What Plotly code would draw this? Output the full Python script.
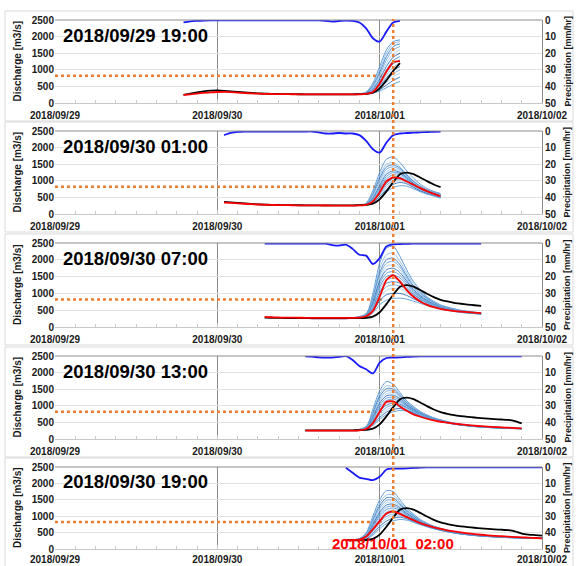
import plotly.graph_objects as go
from datetime import datetime, timedelta

# ---------------- data ----------------
BASE_TIME = datetime(2018, 9, 29, 0, 0)          # hour 0 of the time axis
AXIS_START = "2018-09-29 00:00"
AXIS_END = "2018-10-02 00:00"
DATE_TICKS = ["2018-09-29", "2018-09-30", "2018-10-01", "2018-10-02"]
DATE_TICK_LABELS = ["2018/09/29", "2018/09/30", "2018/10/01", "2018/10/02"]

PANEL_TITLES = ["2018/09/29 19:00", "2018/09/30 01:00", "2018/09/30 07:00",
                "2018/09/30 13:00", "2018/09/30 19:00"]
PANEL_START_HOUR = [19, 25, 31, 37, 43]          # hours since 2018/09/29 00:00

WARNING_LEVEL = 820                              # m3/s
WARNING_LINE_END = "2018-10-01 00:20"
PEAK_TIME = "2018-10-01 02:00"
PEAK_LABEL = "2018/10/01  02:00"

# observed discharge, hourly from hour 19 to hour 72
OBS_START_HOUR = 19
OBSERVED = [245, 280, 320, 350, 370, 378, 368, 352, 335, 318,
            302, 290, 282, 276, 272, 268, 266, 264, 262, 261,
            260, 260, 260, 260, 261, 262, 266, 275, 310, 440,
            680, 960, 1200, 1245, 1200, 1100, 990, 890, 810, 760,
            720, 692, 668, 648, 628, 612, 598, 588, 575, 540,
            470, 440, 425, 410]

# ensemble-mean discharge per panel, hourly from panel start hour
RED_P1 = [245, 262, 285, 305, 322, 332, 335, 328, 315, 300, 288, 280, 275, 271, 268, 266, 264,
          262, 261, 260, 259, 258, 258, 258, 258, 258, 262, 275, 330, 580, 950, 1230, 1260]
RED_P2 = [345, 335, 322, 308, 296, 286, 279, 273, 269, 266, 263, 261, 259, 258, 257, 256, 255,
          255, 255, 255, 258, 275, 380, 650, 980, 1100, 1070, 980, 880, 780, 690, 605, 535]
RED_P3 = [300, 290, 284, 280, 278, 276, 274, 273, 272, 271, 270, 270, 270, 270, 276, 320, 480,
          900, 1400, 1540, 1350, 1100, 900, 760, 660, 590, 540, 500, 475, 455, 440, 425, 410]
RED_P4 = [255, 255, 255, 255, 255, 255, 255, 255, 262, 300, 480, 820, 1120, 1130, 980, 850, 740,
          670, 610, 560, 520, 490, 460, 440, 420, 400, 385, 372, 360, 350, 340, 330, 322]
RED_P5 = [270, 272, 285, 380, 600, 850, 1080, 1150, 1070, 970, 880, 790, 720, 660, 610, 570,
          535, 505, 478, 455, 435, 418, 400, 388, 376, 365, 355, 345, 335, 325]

# precipitation per panel (mm/hr), hourly from panel start hour
PRECIP_P1 = [1.5, 0.8, 0.5, 0.3, 0.2, 0.2, 0.2, 0.2, 0.2, 0.2, 0.2, 0.2, 0.2, 0.2, 0.2,
             0.2, 0.2, 0.2, 0.2, 0.2, 0.2, 0.5, 1.0, 0.6, 0.3, 0.5, 1.5, 5.0, 11.0, 13.0,
             7.0, 1.5, 0.5]
PRECIP_P2 = [2.5, 1.2, 0.5, 0.3, 0.3, 0.3, 0.3, 0.3, 0.3, 0.3, 0.3, 0.3, 0.3, 0.3, 0.8,
             1.5, 1.5, 1.2, 1.5, 1.5, 2.5, 6.0, 11.0, 13.0, 7.0, 2.5, 1.5, 1.2, 1.0, 0.8,
             0.6, 0.5, 0.4]
PRECIP_P3 = [0.4, 0.4, 0.4, 0.4, 0.4, 0.4, 0.4, 0.4, 0.4, 0.4, 1.2, 1.5, 1.0, 3.5, 7.0,
             7.5, 12.5, 9.0, 2.0, 0.8, 0.6, 0.5, 0.4, 0.4, 0.4, 0.4, 0.4, 0.4, 0.4, 0.4,
             0.4, 0.4, 0.4]
PRECIP_P4 = [0.2, 0.4, 0.8, 1.0, 1.0, 0.5, 0.1, 2.4, 6.0, 8.0, 10.5, 4.0, 1.2, 1.0, 0.8,
             0.5, 0.3, 0.2, 0.2, 0.2, 0.2, 0.2, 0.2, 0.2, 0.2, 0.2, 0.2, 0.2, 0.2, 0.2,
             0.2, 0.2, 0.2]
PRECIP_P5 = [0.5, 3.5, 6.5, 7.2, 8.0, 6.0, 1.5, 1.0, 1.0, 0.8, 0.5, 0.3, 0.2, 0.2, 0.2,
             0.2, 0.2, 0.2, 0.2, 0.2, 0.2, 0.2, 0.2, 0.2, 0.2, 0.2, 0.2, 0.2, 0.2, 0.2]

# ensemble members per panel: hour grid + one list per member
ENS_HOURS_P1 = [44, 45, 46, 47, 48, 49, 50, 51]
ENS_P1 = [
    [258, 275, 330, 600, 1100, 1600, 1850, 1900],
    [258, 272, 320, 560, 1000, 1500, 1780, 1850],
    [258, 270, 310, 520, 920, 1400, 1700, 1780],
    [258, 268, 305, 480, 850, 1300, 1600, 1700],
    [258, 266, 300, 450, 780, 1200, 1480, 1600],
    [258, 264, 295, 420, 720, 1100, 1380, 1500],
    [258, 262, 290, 400, 660, 1000, 1280, 1400],
    [258, 262, 285, 380, 610, 920, 1180, 1300],
    [258, 260, 282, 360, 560, 840, 1080, 1200],
    [258, 260, 280, 345, 520, 760, 980, 1100],
    [258, 260, 278, 330, 480, 690, 880, 1000],
    [258, 259, 276, 318, 440, 620, 790, 900],
    [258, 259, 274, 305, 400, 540, 680, 780],
    [258, 258, 272, 295, 360, 460, 570, 650],
]
ENS_HOURS_P2 = [44, 45, 46, 47, 48, 49, 50, 51, 52, 53, 54, 55, 56, 57]
ENS_P2 = [
    [255, 265, 330, 700, 1250, 1650, 1720, 1550, 1300, 1080, 900, 770, 680, 620],
    [255, 262, 315, 640, 1150, 1500, 1550, 1420, 1200, 1000, 850, 740, 660, 600],
    [255, 262, 305, 600, 1080, 1420, 1480, 1380, 1180, 980, 830, 720, 650, 590],
    [255, 260, 300, 560, 1000, 1350, 1420, 1340, 1150, 960, 810, 710, 640, 580],
    [255, 260, 295, 520, 930, 1270, 1350, 1300, 1120, 940, 800, 700, 630, 570],
    [255, 260, 290, 490, 860, 1200, 1300, 1260, 1100, 920, 780, 690, 620, 560],
    [255, 258, 285, 460, 800, 1130, 1250, 1230, 1080, 900, 770, 680, 610, 550],
    [255, 258, 282, 440, 740, 1060, 1190, 1200, 1060, 890, 760, 670, 605, 545],
    [255, 258, 280, 420, 690, 990, 1130, 1150, 1040, 880, 750, 660, 600, 540],
    [255, 257, 278, 400, 640, 920, 1070, 1100, 1010, 860, 740, 650, 590, 530],
    [255, 257, 276, 385, 600, 860, 1010, 1050, 980, 840, 725, 640, 580, 520],
    [255, 256, 274, 370, 560, 800, 950, 1000, 950, 820, 710, 630, 570, 510],
    [255, 256, 272, 355, 520, 740, 890, 950, 910, 800, 695, 620, 560, 500],
    [255, 256, 270, 340, 470, 660, 800, 850, 840, 760, 670, 600, 540, 480],
]
ENS_HOURS_P3 = [44, 46, 47, 48, 49, 50, 51, 52, 53, 55, 57, 60, 63]
ENS_P3 = [
    [270, 400, 1000, 1900, 2350, 2400, 2100, 1700, 1350, 900, 660, 500, 420],
    [270, 380, 920, 1750, 2150, 2200, 1950, 1600, 1280, 870, 640, 490, 415],
    [270, 370, 860, 1620, 2000, 2050, 1850, 1520, 1220, 850, 630, 485, 410],
    [270, 360, 820, 1540, 1900, 1950, 1780, 1470, 1180, 830, 620, 480, 408],
    [270, 350, 780, 1450, 1800, 1850, 1700, 1420, 1150, 810, 610, 475, 405],
    [270, 345, 740, 1370, 1700, 1750, 1620, 1370, 1110, 790, 600, 470, 402],
    [270, 340, 700, 1290, 1600, 1650, 1540, 1310, 1070, 770, 590, 465, 400],
    [270, 335, 660, 1200, 1500, 1550, 1460, 1260, 1040, 750, 580, 460, 398],
    [270, 330, 620, 1120, 1400, 1450, 1380, 1200, 1000, 730, 570, 455, 395],
    [270, 325, 580, 1040, 1300, 1350, 1300, 1150, 970, 715, 560, 450, 393],
    [270, 320, 540, 960, 1200, 1250, 1220, 1090, 930, 700, 555, 448, 390],
    [270, 315, 500, 880, 1100, 1150, 1140, 1030, 890, 685, 550, 445, 388],
    [270, 310, 460, 780, 960, 1000, 1000, 940, 840, 670, 545, 440, 385],
    [270, 305, 420, 660, 800, 850, 860, 830, 770, 640, 530, 435, 382],
]
ENS_HOURS_P4 = [44, 46, 47, 48, 49, 50, 51, 52, 54, 56, 59, 62, 65, 69]
ENS_P4 = [
    [255, 380, 900, 1450, 1730, 1650, 1400, 1150, 830, 640, 480, 400, 360, 320],
    [255, 360, 820, 1350, 1600, 1560, 1350, 1110, 810, 630, 475, 398, 358, 318],
    [255, 350, 780, 1280, 1520, 1500, 1310, 1090, 800, 625, 472, 396, 356, 317],
    [255, 340, 740, 1210, 1440, 1440, 1280, 1070, 790, 620, 470, 394, 354, 316],
    [255, 335, 700, 1140, 1370, 1380, 1240, 1050, 780, 615, 467, 392, 352, 315],
    [255, 330, 660, 1080, 1300, 1320, 1210, 1030, 770, 610, 465, 390, 350, 314],
    [255, 325, 620, 1010, 1230, 1260, 1170, 1010, 760, 605, 462, 388, 348, 313],
    [255, 320, 590, 950, 1160, 1200, 1130, 990, 750, 600, 460, 386, 346, 312],
    [255, 315, 560, 890, 1090, 1140, 1090, 960, 740, 595, 457, 384, 344, 311],
    [255, 310, 530, 830, 1020, 1080, 1050, 940, 730, 590, 455, 382, 342, 310],
    [255, 305, 500, 770, 950, 1020, 1010, 920, 720, 585, 452, 380, 340, 309],
    [255, 300, 470, 710, 880, 960, 970, 900, 710, 580, 450, 378, 338, 308],
    [255, 295, 440, 650, 810, 890, 920, 870, 700, 575, 448, 376, 336, 307],
    [255, 290, 410, 590, 740, 820, 860, 840, 690, 570, 445, 374, 334, 306],
]
ENS_HOURS_P5 = [43, 45, 46, 47, 48, 49, 50, 51, 52, 54, 56, 59, 62, 66, 72]
ENS_P5 = [
    [272, 320, 500, 1000, 1500, 1780, 1750, 1500, 1250, 900, 700, 530, 440, 380, 330],
    [272, 315, 470, 930, 1400, 1650, 1640, 1430, 1200, 880, 690, 525, 437, 378, 329],
    [272, 310, 450, 880, 1320, 1560, 1560, 1380, 1170, 865, 682, 520, 434, 376, 328],
    [272, 305, 430, 830, 1250, 1480, 1490, 1340, 1140, 850, 675, 515, 431, 374, 327],
    [272, 302, 415, 790, 1180, 1410, 1430, 1300, 1110, 840, 668, 512, 428, 372, 326],
    [272, 300, 400, 750, 1120, 1340, 1370, 1260, 1090, 830, 662, 508, 426, 370, 325],
    [272, 298, 385, 710, 1060, 1270, 1310, 1220, 1060, 820, 655, 505, 424, 368, 324],
    [272, 296, 370, 670, 1000, 1200, 1250, 1180, 1040, 810, 650, 502, 422, 366, 323],
    [272, 294, 355, 630, 940, 1130, 1190, 1140, 1010, 800, 645, 500, 420, 364, 322],
    [272, 292, 340, 590, 880, 1060, 1130, 1100, 990, 790, 640, 497, 418, 362, 321],
    [272, 290, 325, 550, 820, 990, 1070, 1060, 970, 780, 635, 495, 416, 360, 320],
    [272, 288, 310, 510, 760, 920, 1010, 1020, 950, 770, 630, 492, 414, 358, 319],
    [272, 286, 300, 470, 690, 850, 940, 970, 920, 760, 625, 490, 412, 356, 318],
    [272, 284, 295, 430, 620, 770, 860, 900, 880, 740, 615, 486, 410, 354, 317],
]

RED_SERIES = [RED_P1, RED_P2, RED_P3, RED_P4, RED_P5]
PRECIP_SERIES = [PRECIP_P1, PRECIP_P2, PRECIP_P3, PRECIP_P4, PRECIP_P5]
ENS_HOURS = [ENS_HOURS_P1, ENS_HOURS_P2, ENS_HOURS_P3, ENS_HOURS_P4, ENS_HOURS_P5]
ENS_SERIES = [ENS_P1, ENS_P2, ENS_P3, ENS_P4, ENS_P5]

# ---------------- styling / layout ----------------
W, H = 576, 566
PLOT_LEFT, PLOT_RIGHT = 55, 542
PANEL_TOPS = [20, 131, 243, 356, 467]
PANEL_BOTTOMS = [103, 214, 327, 439, 549]
LABEL_STANDOFF = [3, 3, 3, 3, 1]
FONT = "Liberation Sans, Arial, sans-serif"
ORANGE = "#ed7d31"
ENS_COLORS = ["#4f8fcf", "#8dbbe6", "#3c7cc0", "#6fa8dc", "#aacdee", "#2f6fb3", "#5b9bd5"]


def px_x(p):
    return p / W


def px_y(p):
    return 1 - p / H


def to_time(hours):
    return [BASE_TIME + timedelta(hours=h) for h in hours]


fig = go.Figure()
layout = dict(
    template="none",
    width=W, height=H, margin=dict(l=0, r=0, t=0, b=0, pad=0, autoexpand=False),
    paper_bgcolor="white", plot_bgcolor="white", showlegend=False,
    font=dict(family=FONT, color="#1a1a1a"),
)
shapes, annotations = [], []

for i in range(5):
    n = i + 1
    xa = "x" if n == 1 else f"x{n}"
    ya = "y" if n == 1 else f"y{n}"
    yp = f"y{n + 5}"
    start = PANEL_START_HOUR[i]

    # warning level
    fig.add_trace(go.Scatter(x=[AXIS_START, WARNING_LINE_END], y=[WARNING_LEVEL, WARNING_LEVEL],
                             mode="lines", line=dict(color=ORANGE, width=2.5, dash="dot"),
                             xaxis=xa, yaxis=ya, hoverinfo="skip"))
    # ensemble members
    for k, member in enumerate(ENS_SERIES[i]):
        fig.add_trace(go.Scatter(x=to_time(ENS_HOURS[i]), y=member, mode="lines",
                                 line=dict(color=ENS_COLORS[k % len(ENS_COLORS)], width=0.9,
                                           shape="spline", smoothing=0.8),
                                 xaxis=xa, yaxis=ya, hoverinfo="skip"))
    # observed (black)
    obs_hours = list(range(OBS_START_HOUR, OBS_START_HOUR + len(OBSERVED)))
    sel = [(h, v) for h, v in zip(obs_hours, OBSERVED) if start <= h <= start + 32]
    fig.add_trace(go.Scatter(x=to_time([h for h, _ in sel]), y=[v for _, v in sel], mode="lines",
                             line=dict(color="black", width=1.8, shape="spline", smoothing=0.6),
                             xaxis=xa, yaxis=ya, hoverinfo="skip"))
    # ensemble mean (red)
    red = RED_SERIES[i]
    fig.add_trace(go.Scatter(x=to_time(range(start, start + len(red))), y=red, mode="lines",
                             line=dict(color="#ff0000", width=1.8, shape="spline", smoothing=0.6),
                             xaxis=xa, yaxis=ya, hoverinfo="skip"))
    # precipitation (right axis, reversed)
    pr = PRECIP_SERIES[i]
    fig.add_trace(go.Scatter(x=to_time(range(start, start + len(pr))), y=pr, mode="lines",
                             line=dict(color="#1a1aff", width=1.8, shape="spline", smoothing=0.8),
                             xaxis=xa, yaxis=yp, hoverinfo="skip"))

    ydom = [px_y(PANEL_BOTTOMS[i]), px_y(PANEL_TOPS[i])]
    tickfont = dict(size=10, family=FONT, weight="bold", color="#1a1a1a")
    layout[f"xaxis{n}"] = dict(
        domain=[px_x(PLOT_LEFT), px_x(PLOT_RIGHT)], anchor=ya, type="date",
        range=[AXIS_START, AXIS_END], tickvals=DATE_TICKS, ticktext=DATE_TICK_LABELS,
        showgrid=True, gridcolor="#8c8c8c", gridwidth=1,
        showline=True, linecolor="#c8c8c8", linewidth=1,
        ticks="inside", ticklen=4, tickcolor="#c8c8c8", ticklabelstandoff=LABEL_STANDOFF[i],
        minor=dict(dtick=3 * 3600 * 1000, ticks="inside", ticklen=3, tickcolor="#c8c8c8",
                   showgrid=False),
        tickfont=tickfont, zeroline=False, fixedrange=True, automargin=False,
    )
    layout[f"yaxis{n}"] = dict(
        domain=ydom, anchor=xa, range=[0, 2500], tick0=0, dtick=500,
        showgrid=True, gridcolor="#e2e2e2", gridwidth=1, zeroline=False, showline=False,
        ticks="", tickfont=tickfont, fixedrange=True, automargin=False,
    )
    layout[f"yaxis{n + 5}"] = dict(
        overlaying=ya, anchor=xa, side="right", range=[50, 0], tick0=0, dtick=10,
        showgrid=False, zeroline=False, showline=True, linecolor="#8c8c8c", linewidth=1,
        ticks="", tickfont=tickfont, fixedrange=True, automargin=False,
    )

    # dark top frame line
    shapes.append(dict(type="line", xref=f"{xa} domain", yref=f"{ya} domain",
                       x0=0, x1=1, y0=1, y1=1, line=dict(color="#8c8c8c", width=1)))
    # panel box
    shapes.append(dict(type="rect", xref="paper", yref="paper",
                       x0=px_x(5), x1=px_x(573), y0=px_y(PANEL_BOTTOMS[i] + 18),
                       y1=px_y(PANEL_TOPS[i] - 9), line=dict(color="#d9d9d9", width=1),
                       fillcolor="rgba(0,0,0,0)", layer="below"))
    # panel title
    annotations.append(dict(text=PANEL_TITLES[i], xref="paper", yref="paper",
                            x=px_x(61), y=px_y(PANEL_TOPS[i] + 15), xanchor="left",
                            yanchor="middle", showarrow=False,
                            font=dict(size=18.5, family=FONT, weight="bold", color="black")))
    # axis titles
    mid = (PANEL_TOPS[i] + PANEL_BOTTOMS[i]) / 2
    annotations.append(dict(text="Discharge [m3/s]", xref="paper", yref="paper",
                            x=px_x(17), y=px_y(mid), textangle=-90, showarrow=False,
                            xanchor="center", yanchor="middle",
                            font=dict(size=10, family=FONT, weight="bold", color="#1a1a1a")))
    annotations.append(dict(text="Precipitation [mm/hr]", xref="paper", yref="paper",
                            x=px_x(567), y=px_y(mid), textangle=-90, showarrow=False,
                            xanchor="center", yanchor="middle",
                            font=dict(size=9, family=FONT, weight="bold", color="#1a1a1a")))

# vertical peak-time line across all panels
shapes.append(dict(type="line", xref="x", yref="paper", x0=PEAK_TIME, x1=PEAK_TIME,
                   y0=px_y(537), y1=px_y(19), line=dict(color=ORANGE, width=2.5, dash="dot"),
                   layer="above"))
annotations.append(dict(text=PEAK_LABEL, xref="x5", yref="paper", x=PEAK_TIME, y=px_y(543),
                        xanchor="center", yanchor="middle", showarrow=False,
                        font=dict(size=15, family=FONT, weight="bold", color="#ff0000")))

layout["shapes"] = shapes
layout["annotations"] = annotations
fig.update_layout(**layout)
fig.write_html("out.html")
